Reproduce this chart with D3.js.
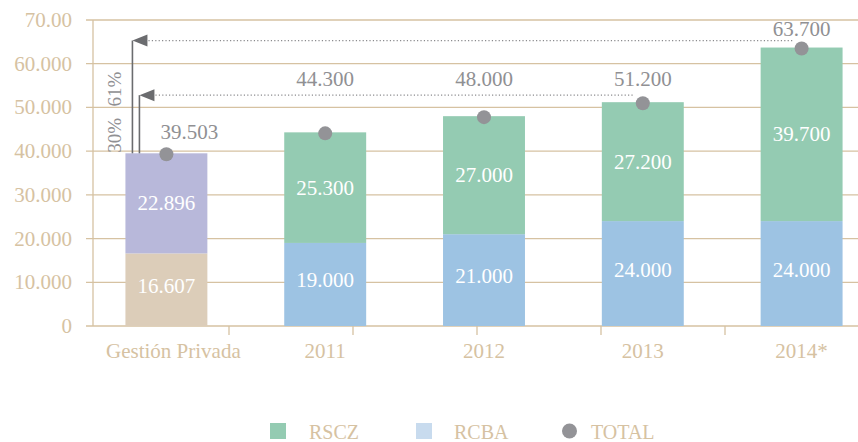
<!DOCTYPE html>
<html>
<head>
<meta charset="utf-8">
<script src="https://cdn.jsdelivr.net/npm/d3@7"></script>
<style>
  body { margin: 0; background: #fff; }
</style>
</head>
<body>
<svg id="chart" width="858" height="442" font-family="Liberation Serif"></svg>
<script>
const categories = ['Gestión Privada', '2011', '2012', '2013', '2014*'];
// stacked segments, bottom to top
const bottomValues = [16.607, 19.0, 21.0, 24.0, 24.0];
const topValues = [22.896, 25.3, 27.0, 27.2, 39.7];
const bottomLabels = ['16.607', '19.000', '21.000', '24.000', '24.000'];
const topLabels = ['22.896', '25.300', '27.000', '27.200', '39.700'];
const totals = [39.503, 44.3, 48.0, 51.2, 63.7];
const totalLabels = ['39.503', '44.300', '48.000', '51.200', '63.700'];
const yTicks = [0, 10, 20, 30, 40, 50, 60, 70];
const yTickLabels = ['0', '10.000', '20.000', '30.000', '40.000', '50.000', '60.000', '70.00'];
const legendItems = ['RSCZ', 'RCBA', 'TOTAL'];

const tan = '#d6c2a2';
const grey = '#909093';
const bottomColors = ['#dccdb9', '#9dc3e3', '#9dc3e3', '#9dc3e3', '#9dc3e3'];
const topColors = ['#b8b8da', '#94cbb2', '#94cbb2', '#94cbb2', '#94cbb2'];

const svg = d3.select('#chart');

const x = d3.scaleBand().domain(categories).range([87, 881]).paddingInner(0.484).paddingOuter(0.242);
const y = d3.scaleLinear().domain([0, 70]).range([326, 20]);

// gridlines + y labels
svg.append('g')
  .selectAll('line')
  .data(yTicks)
  .join('line')
  .attr('x1', 86)
  .attr('x2', 858)
  .attr('y1', (d) => y(d))
  .attr('y2', (d) => y(d))
  .attr('stroke', tan)
  .attr('stroke-width', 1.3);

svg.append('g')
  .selectAll('text')
  .data(yTicks)
  .join('text')
  .attr('x', 72)
  .attr('y', (d) => y(d) + 7)
  .attr('text-anchor', 'end')
  .attr('font-size', 21)
  .attr('fill', tan)
  .text((d, i) => yTickLabels[i]);

svg.append('line')
  .attr('x1', 93).attr('x2', 93)
  .attr('y1', y(70)).attr('y2', y(0))
  .attr('stroke', tan).attr('stroke-width', 1.3);

// bottom axis ticks (the original ticks don't line up with the bars)
const tickX = d3.scaleLinear().domain([0, 4]).range([229, 725]);
svg.append('g')
  .selectAll('line')
  .data(d3.range(5))
  .join('line')
  .attr('x1', (d) => tickX(d))
  .attr('x2', (d) => tickX(d))
  .attr('y1', y(0))
  .attr('y2', y(0) + 9)
  .attr('stroke', tan)
  .attr('stroke-width', 1.3);

svg.append('g')
  .selectAll('text')
  .data(categories)
  .join('text')
  .attr('x', (d, i) => x(d) + x.bandwidth() / 2 + (i === 0 ? 7 : 0))
  .attr('y', 358)
  .attr('text-anchor', 'middle')
  .attr('font-size', 21)
  .attr('fill', tan)
  .text((d) => d);

// bars
const bars = svg.append('g');
bars.selectAll('rect.bottom')
  .data(categories)
  .join('rect')
  .attr('class', 'bottom')
  .attr('x', (d) => x(d))
  .attr('width', x.bandwidth())
  .attr('y', (d, i) => y(bottomValues[i]))
  .attr('height', (d, i) => y(0) - y(bottomValues[i]))
  .attr('fill', (d, i) => bottomColors[i]);

bars.selectAll('rect.top')
  .data(categories)
  .join('rect')
  .attr('class', 'top')
  .attr('x', (d) => x(d))
  .attr('width', x.bandwidth())
  .attr('y', (d, i) => y(bottomValues[i] + topValues[i]))
  .attr('height', (d, i) => y(bottomValues[i]) - y(bottomValues[i] + topValues[i]))
  .attr('fill', (d, i) => topColors[i]);

const cx = (d) => x(d) + x.bandwidth() / 2;

bars.selectAll('text.bl')
  .data(categories)
  .join('text')
  .attr('class', 'bl')
  .attr('x', cx)
  .attr('y', (d, i) => (y(0) + y(bottomValues[i])) / 2 + 3)
  .attr('text-anchor', 'middle')
  .attr('font-size', 21)
  .attr('fill', '#fff')
  .text((d, i) => bottomLabels[i]);

bars.selectAll('text.tl')
  .data(categories)
  .join('text')
  .attr('class', 'tl')
  .attr('x', cx)
  .attr('y', (d, i) => (y(bottomValues[i]) + y(bottomValues[i] + topValues[i])) / 2 + 7)
  .attr('text-anchor', 'middle')
  .attr('font-size', 21)
  .attr('fill', '#fff')
  .text((d, i) => topLabels[i]);

// growth arrows from the private-management bar
const baseTop = y(totals[0]);
const x0 = x(categories[0]);
const lowLineY = y(totals[3]) - 7;
const highLineY = y(totals[4]) - 7;
const arrows = [
  { vx: x0 + 7, lineY: highLineY, toX: cx(categories[4]) - 8 },
  { vx: x0 + 14, lineY: lowLineY, toX: cx(categories[3]) - 8 },
];
const arrowG = svg.append('g');
arrows.forEach((a) => {
  arrowG.append('line')
    .attr('x1', a.vx).attr('x2', a.vx)
    .attr('y1', baseTop).attr('y2', a.lineY)
    .attr('stroke', '#6b6c6f').attr('stroke-width', 1.6);
  arrowG.append('path')
    .attr('d', `M${a.vx},${a.lineY}L${a.vx + 15},${a.lineY - 6}L${a.vx + 15},${a.lineY + 6}Z`)
    .attr('fill', '#6b6c6f');
  arrowG.append('line')
    .attr('x1', a.vx + 16).attr('x2', a.toX)
    .attr('y1', a.lineY).attr('y2', a.lineY)
    .attr('stroke', '#8a8a8d').attr('stroke-width', 1.2)
    .attr('stroke-dasharray', '1.2,2.2');
});

const pct = (v) => `${Math.round((v / totals[0] - 1) * 100)}%`;
arrowG.append('text')
  .attr('transform', `translate(${x0 - 4},${baseTop - 18}) rotate(-90)`)
  .attr('text-anchor', 'middle')
  .attr('font-size', 19)
  .attr('fill', grey)
  .text(pct(totals[3]));
arrowG.append('text')
  .attr('transform', `translate(${x0 - 4},${lowLineY - 6}) rotate(-90)`)
  .attr('text-anchor', 'middle')
  .attr('font-size', 19)
  .attr('fill', grey)
  .text(pct(totals[4]));

// totals
svg.append('g')
  .selectAll('circle')
  .data(categories)
  .join('circle')
  .attr('cx', cx)
  .attr('cy', (d, i) => y(totals[i]) + 1)
  .attr('r', 7)
  .attr('fill', '#939397');

svg.append('g')
  .selectAll('text')
  .data(categories)
  .join('text')
  .attr('x', (d, i) => cx(d) + (i === 0 ? 23 : 0))
  .attr('y', (d, i) => (i === 0 ? y(totals[i]) - 14 : Math.min(y(totals[i]) - 12, lowLineY - 9)))
  .attr('text-anchor', 'middle')
  .attr('font-size', 21)
  .attr('fill', grey)
  .text((d, i) => totalLabels[i]);

// legend
const legendX = [270, 416, 562];
const legend = svg.append('g');
legend.append('rect').attr('x', legendX[0]).attr('y', 423).attr('width', 16).attr('height', 16).attr('fill', '#94cbb2');
legend.append('rect').attr('x', legendX[1]).attr('y', 423).attr('width', 16).attr('height', 16).attr('fill', '#c8dbee');
legend.append('circle').attr('cx', legendX[2] + 7.5).attr('cy', 431).attr('r', 7.5).attr('fill', '#939397');
legend.selectAll('text')
  .data(legendItems)
  .join('text')
  .attr('x', (d, i) => legendX[i] + [39, 38, 29][i])
  .attr('y', 439)
  .attr('font-size', 20)
  .attr('fill', tan)
  .text((d) => d);
</script>
</body>
</html>
